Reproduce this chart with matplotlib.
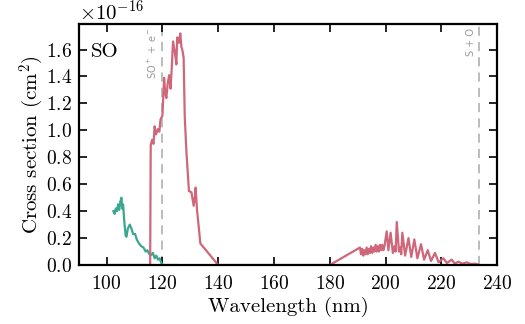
import matplotlib
matplotlib.use("Agg")
import matplotlib.pyplot as plt

plt.rcParams['font.family'] = 'serif'
plt.rcParams['font.serif'] = ['cmr10']
plt.rcParams['mathtext.fontset'] = 'cm'
plt.rcParams['axes.formatter.use_mathtext'] = True

# teal curve (short wavelength piece)
teal_wl = [102.4, 102.9, 103.3, 103.7, 104.1, 104.5, 104.9, 105.3, 105.6, 105.9,
           106.3, 106.8, 107.1, 107.6, 108.3, 108.9, 109.5, 110.2, 110.8, 111.6,
           112.4, 113.2, 114.0, 114.6, 115.3, 116.0, 116.6, 117.2, 117.8, 118.4,
           119.0, 119.6, 120.2, 125.0]
teal_sigma = [0.40, 0.38, 0.42, 0.40, 0.45, 0.41, 0.47, 0.50, 0.42, 0.45,
              0.33, 0.22, 0.21, 0.27, 0.30, 0.27, 0.23, 0.23, 0.19, 0.16,
              0.14, 0.13, 0.10, 0.11, 0.08, 0.075, 0.09, 0.05, 0.07, 0.04,
              0.05, 0.015, 0.0, 0.0]

# red curve
red_wl = [100.0, 115.6, 115.8, 116.3, 116.8, 117.2, 117.7, 118.4, 118.9, 119.3,
          120.0, 120.6, 121.0, 121.4, 121.9, 122.4, 122.9, 123.3, 123.8, 124.4,
          125.0, 125.3, 125.9, 126.4, 126.8, 127.2, 127.6, 128.0, 128.6, 129.5,
          130.4, 131.2, 131.6, 131.9, 132.4, 133.6, 140.0, 180.0,
          190.8, 191.2, 191.6, 192.0, 192.4, 192.8, 193.2, 193.6, 194.0, 194.4,
          194.8, 195.2, 195.6, 196.0, 196.4, 196.8, 197.2, 197.6, 198.0, 198.4,
          198.8, 199.2, 199.6, 200.4, 201.0, 201.8, 202.6, 203.2, 203.6, 204.0,
          204.8, 205.3, 205.6, 206.0, 207.0, 208.2, 209.2, 210.3, 211.4, 212.7,
          213.8, 215.1, 216.3, 217.7, 219.0, 220.7, 222.0, 223.7, 224.8, 226.1,
          227.5, 229.1, 230.5, 232.0, 233.0]
red_sigma = [0.0, 0.0, 0.89, 0.93, 0.90, 1.03, 0.97, 1.01, 0.99, 1.08,
             1.11, 1.39, 1.28, 1.24, 1.35, 1.41, 1.31, 1.45, 1.66, 1.59,
             1.49, 1.69, 1.65, 1.72, 1.62, 1.59, 1.54, 1.10, 0.84, 0.55,
             0.54, 0.44, 0.50, 0.575, 0.41, 0.16, 0.0, 0.0,
             0.13, 0.08, 0.12, 0.07, 0.11, 0.08, 0.13, 0.08, 0.12, 0.09,
             0.14, 0.09, 0.13, 0.10, 0.15, 0.10, 0.14, 0.10, 0.15, 0.11,
             0.15, 0.11, 0.14, 0.25, 0.11, 0.24, 0.09, 0.14, 0.10, 0.32,
             0.10, 0.13, 0.08, 0.24, 0.07, 0.20, 0.06, 0.19, 0.05, 0.155,
             0.04, 0.11, 0.03, 0.09, 0.02, 0.05, 0.015, 0.04, 0.01, 0.025,
             0.01, 0.02, 0.008, 0.01, 0.005]

thresholds = [120.0, 233.6]
threshold_labels = [r'SO$^+$ + e$^-$', 'S + O']

fig = plt.figure(figsize=(5.25, 3.24), dpi=100)
ax = fig.add_axes([0.150, 0.182, 0.797, 0.744])

ax.plot(teal_wl, [v * 1e-16 for v in teal_sigma], color='#3aa78f', lw=1.6)
ax.plot(red_wl, [v * 1e-16 for v in red_sigma], color='#cf6679', lw=1.6)

for xt, lab in zip(thresholds, threshold_labels):
    ax.axvline(xt, color='#aaaaaa', lw=1.1, dashes=(6, 4), zorder=0)
    ax.text(xt - 1.2, 1.76e-16, lab, rotation=90, ha='right', va='top',
            color='#999999', fontsize=7, family='DejaVu Sans',
            math_fontfamily='dejavusans')

ax.text(0.03, 0.92, 'SO', transform=ax.transAxes, fontsize=15,
        ha='left', va='top')

ax.set_xlim(90, 240)
ax.set_ylim(0, 1.79e-16)
ax.set_xticks([100, 120, 140, 160, 180, 200, 220, 240])
ax.set_yticks([i * 0.2e-16 for i in range(9)])
ax.tick_params(direction='in', top=True, right=True, length=6, width=1.2,
               labelsize=14)
ax.tick_params(axis='x', pad=7)
ax.tick_params(axis='y', pad=5)
for s in ax.spines.values():
    s.set_linewidth(1.6)
ax.yaxis.get_offset_text().set_fontsize(15)
ax.set_xlabel('Wavelength (nm)', fontsize=15, labelpad=3)
ax.set_ylabel('Cross section (cm$^2$)', fontsize=15, labelpad=0)

fig.savefig('out.png', dpi=100)
